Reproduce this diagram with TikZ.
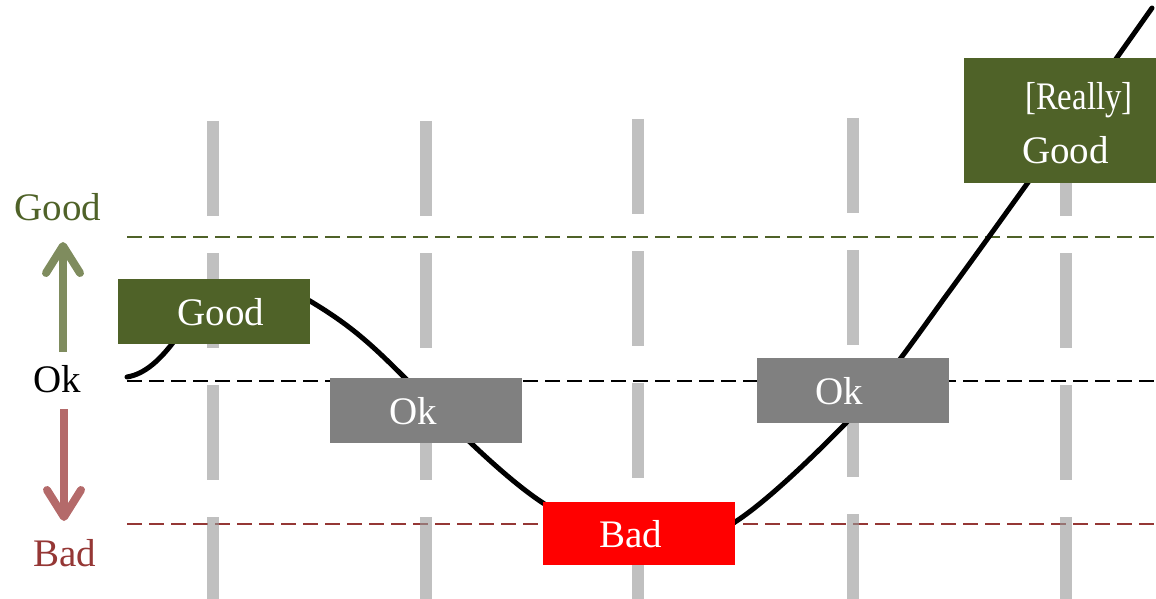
\documentclass[tikz,border=0pt]{standalone}
\usepackage{fontspec}
\setmainfont{Liberation Serif}
\usetikzlibrary{arrows.meta}
\definecolor{oliveDk}{HTML}{4F6228}
\definecolor{boxGray}{HTML}{808080}
\definecolor{boxRed}{HTML}{FF0000}
\definecolor{lineRed}{HTML}{953735}
\definecolor{colGray}{HTML}{999999}
\definecolor{arrGreen}{HTML}{7F8C5E}
\definecolor{arrRed}{HTML}{B46A6A}
\begin{document}
\begin{tikzpicture}[x=1pt,y=-1pt,
  box/.style={anchor=north west, minimum width=192pt, minimum height=65pt, inner sep=0pt, outer sep=0pt},
  txt/.style={anchor=base, inner sep=0pt, font=\fontsize{39}{44}\selectfont},
  boxtxt/.style={txt, text=white},
  hline/.style={dash pattern=on 15pt off 7pt},
  colline/.style={line width=12pt, draw=colGray, draw opacity=0.62, dash pattern=on 95pt off 37pt},
  curveline/.style={line width=5pt, line cap=round, line join=round},
  bigarrow/.style={line width=8pt, -{Straight Barb[length=27pt, width=34pt, round]}}
]
\useasboundingbox (0,0) rectangle (1156,599);

% horizontal reference lines
\draw[hline, draw=oliveDk, line width=2pt] (127,237) -- (1156,237);
\draw[hline, draw=black, line width=2.6pt] (127,381) -- (1156,381);
\draw[hline, draw=lineRed, line width=2.2pt] (127,524) -- (1156,524);

% vertical gray columns
\draw[colline] (213,121) -- (213,599);
\draw[colline] (426,121) -- (426,599);
\draw[colline] (638,119) -- (638,599);
\draw[colline] (853,118) -- (853,599);
\draw[colline] (1066,121) -- (1066,599);

% curve
\draw[curveline] (127,377)
  .. controls (145,374) and (160,360) .. (175,340)
  .. controls (200,305) and (215,285) .. (245,285)
  .. controls (270,285) and (290,290) .. (310,301)
  .. controls (350,325) and (370,343) .. (405,378)
  .. controls (440,413) and (500,475) .. (543,503)
  .. controls (580,527) and (610,545) .. (640,545)
  .. controls (675,545) and (705,541) .. (735,522)
  .. controls (760,506) and (800,470) .. (845,424)
  .. controls (880,388) and (900,360) .. (943,300)
  .. controls (990,236) and (1080,110) .. (1152,8);

% boxes
\node[box, fill=oliveDk] (goodbox) at (118,279) {};
\node[box, fill=boxGray] (okboxa) at (330,378) {};
\node[box, fill=boxRed, minimum height=63pt] (badbox) at (543,502) {};
\node[box, fill=boxGray] (okboxb) at (757,358) {};
\node[box, fill=oliveDk, minimum height=125pt] (rgoodbox) at (964,58) {};

\node[boxtxt] (goodt) at (221,325) {Good};
\node[boxtxt] (okta) at (413,424) {Ok};
\node[boxtxt] (badt) at (631,547) {Bad};
\node[boxtxt] (oktb) at (839,404) {Ok};
\node[boxtxt, anchor=base west] (reallyt) at (1025,110) {\scalebox{0.84}[1]{[Really]}};
\node[boxtxt, anchor=base west] (rgoodt) at (1022,163) {Good};

% left scale
\node[txt, text=oliveDk] (lgood) at (58,220) {Good};
\node[txt, text=black] (lok) at (57,392) {Ok};
\node[txt, text=lineRed] (lbad) at (65,566) {Bad};

\coordinate (upa) at (63,352);
\coordinate (upb) at (63,242);
\coordinate (dna) at (64,409);
\coordinate (dnb) at (64,521);
\draw[bigarrow, draw=arrGreen] (upa) -- (upb);
\draw[bigarrow, draw=arrRed] (dna) -- (dnb);
\end{tikzpicture}
\end{document}
